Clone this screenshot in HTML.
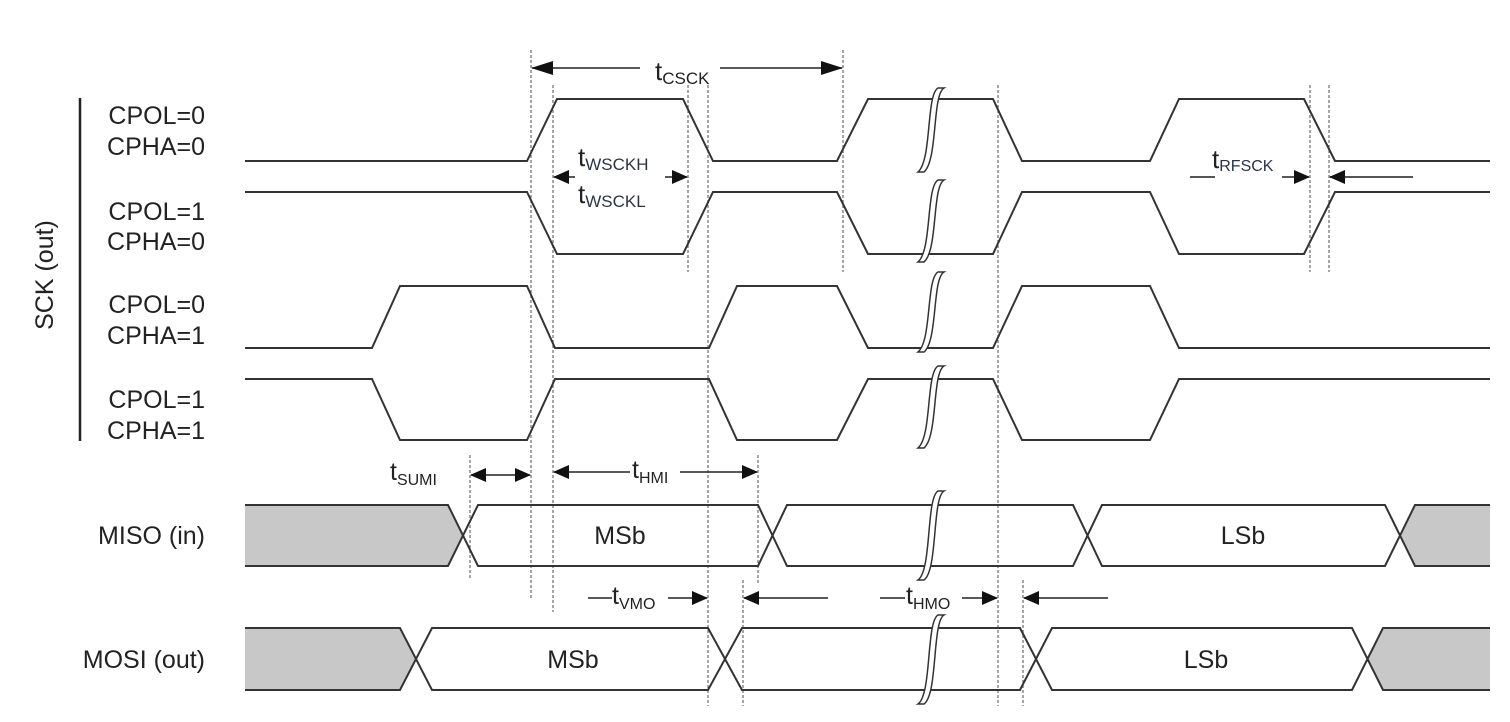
<!DOCTYPE html>
<html><head><meta charset="utf-8"><style>
html,body{margin:0;padding:0;background:#fff;}
svg{display:block;font-family:"Liberation Sans",Arial,sans-serif;}
</style></head><body>
<svg width="1510" height="722" viewBox="0 0 1510 722" xmlns="http://www.w3.org/2000/svg">
<defs>
<marker id="ar" markerWidth="16" markerHeight="14" refX="15" refY="7" orient="auto" markerUnits="userSpaceOnUse"><path d="M0,0 L16,7 L0,14 z" fill="#111"/></marker>
<marker id="ar2" markerWidth="22" markerHeight="14" refX="21" refY="7" orient="auto" markerUnits="userSpaceOnUse"><path d="M0,0 L22,7 L0,14 z" fill="#111"/></marker>
</defs>
<g stroke="#777" stroke-width="1.3" stroke-dasharray="3,2">
<line x1="531" y1="50" x2="531" y2="600"/>
<line x1="553" y1="85" x2="553" y2="612"/>
<line x1="688" y1="85" x2="688" y2="272"/>
<line x1="708" y1="85" x2="708" y2="706"/>
<line x1="843" y1="50" x2="843" y2="272"/>
<line x1="998" y1="85" x2="998" y2="706"/>
<line x1="1310" y1="85" x2="1310" y2="272"/>
<line x1="1329" y1="85" x2="1329" y2="272"/>
<line x1="470" y1="455" x2="470" y2="580"/>
<line x1="758" y1="455" x2="758" y2="585"/>
<line x1="743" y1="580" x2="743" y2="706"/>
<line x1="1023" y1="580" x2="1023" y2="706"/>
</g>
<g fill="none" stroke="#333" stroke-width="2">
<polyline points="245,161 527,161 557,99 683,99 713,161 837,161 868,99 993,99 1022,161 1150,161 1179,99 1304,99 1335,161 1490,161"/>
<polyline points="245,192 527,192 557,254 683,254 713,192 837,192 868,254 993,254 1022,192 1150,192 1179,254 1304,254 1335,192 1490,192"/>
<polyline points="245,348 372,348 400,286 527,286 555,348 709,348 737,286 837,286 868,348 993,348 1022,286 1150,286 1179,348 1490,348"/>
<polyline points="245,379 372,379 400,440 527,440 555,379 709,379 737,440 837,440 868,379 993,379 1022,440 1150,440 1179,379 1490,379"/>
</g>
<path d="M245,505 L448,505 L463,535 L448,566 L245,566 Z" fill="#c8c8c8"/>
<path d="M1415,505 L1490,505 L1490,566 L1415,566 L1400,535 Z" fill="#c8c8c8"/>
<g fill="none" stroke="#333" stroke-width="2">
<polyline points="245,505 448,505 478,566 758,566 787,505 1073,505 1102,566 1385,566 1415,505 1490,505"/>
<polyline points="245,566 448,566 478,505 758,505 787,566 1073,566 1102,505 1385,505 1415,566 1490,566"/>
</g>
<path d="M245,628 L400,628 L416,659 L400,690 L245,690 Z" fill="#c8c8c8"/>
<path d="M1383,628 L1490,628 L1490,690 L1383,690 L1367,659 Z" fill="#c8c8c8"/>
<g fill="none" stroke="#333" stroke-width="2">
<polyline points="245,628 400,628 432,690 708,690 742,628 1020,628 1052,690 1352,690 1383,628 1490,628"/>
<polyline points="245,690 400,690 432,628 708,628 742,690 1020,690 1052,628 1352,628 1383,690 1490,690"/>
</g>
<g fill="#fff" stroke="#333" stroke-width="1.5">
<path d="M938,88 C926,95 932,160 918,172 L924,172 C938,160 932,95 944,88 Z"/>
<path d="M938,180 C926,187 932,250 918,262 L924,262 C938,250 932,187 944,180 Z"/>
<path d="M938,272 C926,279 932,340 918,352 L924,352 C938,340 932,279 944,272 Z"/>
<path d="M938,366 C926,373 932,436 918,448 L924,448 C938,436 932,373 944,366 Z"/>
<path d="M938,491 C926,498 932,570 918,580 L924,580 C938,570 932,498 944,491 Z"/>
<path d="M938,615 C926,622 932,694 918,704 L924,704 C938,694 932,622 944,615 Z"/>
</g>
<g stroke="#222" stroke-width="1.6" fill="none">
<line x1="640" y1="68" x2="532" y2="68" marker-end="url(#ar2)"/>
<line x1="720" y1="68" x2="842" y2="68" marker-end="url(#ar2)"/>
<line x1="575" y1="177" x2="554" y2="177" marker-end="url(#ar)"/>
<line x1="665" y1="177" x2="687" y2="177" marker-end="url(#ar)"/>
<line x1="1190" y1="177" x2="1215" y2="177" stroke="#555" stroke-width="2"/>
<line x1="1282" y1="177" x2="1309" y2="177" marker-end="url(#ar)"/>
<line x1="1413" y1="177" x2="1330" y2="177" marker-end="url(#ar)" stroke="#555" stroke-width="2"/>
<line x1="500" y1="475" x2="471" y2="475" marker-end="url(#ar)"/>
<line x1="500" y1="475" x2="530" y2="475" marker-end="url(#ar)"/>
<line x1="630" y1="472" x2="554" y2="472" marker-end="url(#ar)"/>
<line x1="680" y1="472" x2="757" y2="472" marker-end="url(#ar)"/>
<line x1="588" y1="598" x2="612" y2="598"/>
<line x1="668" y1="598" x2="707" y2="598" marker-end="url(#ar)"/>
<line x1="828" y1="598" x2="744" y2="598" marker-end="url(#ar)"/>
<line x1="880" y1="598" x2="905" y2="598"/>
<line x1="962" y1="598" x2="997" y2="598" marker-end="url(#ar)"/>
<line x1="1108" y1="598" x2="1024" y2="598" marker-end="url(#ar)"/>
</g>
<g fill="#222">
<text x="655" y="80" font-size="26">t<tspan font-size="17" dy="4">CSCK</tspan></text>
<text x="578" y="166" font-size="26">t<tspan font-size="17" dy="4" fill="#2a3445">WSCKH</tspan></text>
<text x="578" y="203" font-size="26">t<tspan font-size="17" dy="4" fill="#2a3445">WSCKL</tspan></text>
<text x="1212" y="168" font-size="26">t<tspan font-size="16" dy="3" fill="#2a3445">RFSCK</tspan></text>
<text x="390" y="480" font-size="25">t<tspan font-size="16" dy="5">SUMI</tspan></text>
<text x="632" y="478" font-size="25">t<tspan font-size="16" dy="5">HMI</tspan></text>
<text x="612" y="604" font-size="25">t<tspan font-size="16" dy="5">VMO</tspan></text>
<text x="906" y="604" font-size="25">t<tspan font-size="16" dy="5">HMO</tspan></text>
<text x="620" y="544" font-size="25" text-anchor="middle">MSb</text>
<text x="1243" y="544" font-size="25" text-anchor="middle">LSb</text>
<text x="573" y="668" font-size="25" text-anchor="middle">MSb</text>
<text x="1206" y="668" font-size="25" text-anchor="middle">LSb</text>
</g>
<line x1="80" y1="98" x2="80" y2="441" stroke="#222" stroke-width="2.5"/>
<g fill="#222" font-size="25" text-anchor="end">
<text x="205" y="124">CPOL=0</text>
<text x="205" y="155">CPHA=0</text>
<text x="205" y="220">CPOL=1</text>
<text x="205" y="250">CPHA=0</text>
<text x="205" y="313">CPOL=0</text>
<text x="205" y="344">CPHA=1</text>
<text x="205" y="408">CPOL=1</text>
<text x="205" y="439">CPHA=1</text>
<text x="205" y="544">MISO (in)</text>
<text x="205" y="668">MOSI (out)</text>
</g>
<text transform="translate(53,275) rotate(-90)" font-size="25" fill="#222" text-anchor="middle">SCK (out)</text>
</svg>
</body></html>
